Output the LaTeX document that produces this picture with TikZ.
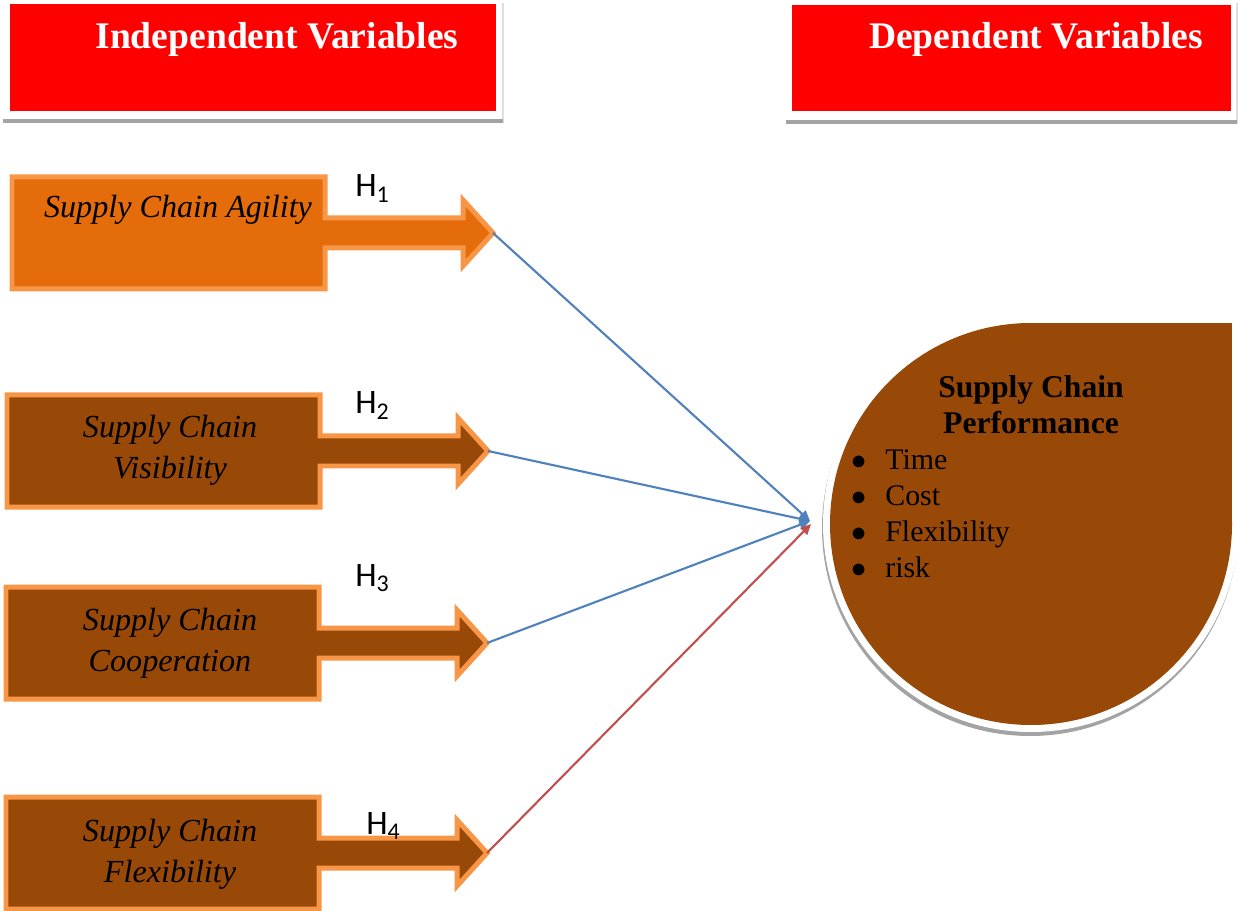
\documentclass[tikz,border=0pt]{standalone}
\usepackage{fontspec}
\setmainfont{Liberation Serif}
\newfontfamily\hypfont{Carlito}
\usetikzlibrary{arrows.meta, positioning}

\definecolor{hdrred}{HTML}{FF0000}
\definecolor{agiorange}{HTML}{E46C0A}
\definecolor{rimorange}{HTML}{F79646}
\definecolor{darkbrown}{HTML}{984807}
\definecolor{linkblue}{HTML}{4F81BD}
\definecolor{linkred}{HTML}{C0504D}
\definecolor{shadegray}{HTML}{A3A3A3}

\newcommand\perfitem[1]{\makebox[0.68cm][l]{$\bullet$}#1}

\begin{document}
\begin{tikzpicture}[x=0.02cm, y=-0.02cm,
    hdrtext/.style={text=white, font=\fontsize{21.4}{25}\selectfont\bfseries, inner sep=0pt, anchor=base},
    boxtext/.style={font=\fontsize{18.3}{23.3}\selectfont\itshape, align=center, inner sep=0pt},
    hyp/.style={font=\hypfont\fontsize{19.5}{22}\selectfont, inner sep=0pt, anchor=base west},
    link/.style={draw=linkblue, line width=1.2pt, -{Triangle[length=6pt, width=5.5pt]}}]
  \useasboundingbox (0,0) rectangle (1239,911);

  % header boxes
  \fill[shadegray!35] (3,3) rectangle (504,123);
  \fill[shadegray] (3,119) rectangle (503,123);
  \fill[white] (0,0) rectangle (502,119);
  \fill[hdrred] (10,4) rectangle (496,111);
  \fill[shadegray!35] (786,3) rectangle (1238,124);
  \fill[shadegray] (786,120) rectangle (1237,124);
  \fill[white] (783,0) rectangle (1236,120);
  \fill[hdrred] (792,5) rectangle (1231,111);
  \node[hdrtext] (indep) at (277,49) {Independent Variables};
  \node[hdrtext] (dep) at (1036,49) {Dependent Variables};

  % callout boxes
  \foreach \n/\x/\y/\c in {agil/12/233/agiorange, visi/7/451/darkbrown,
                           coop/6/643/darkbrown, flex/6/853/darkbrown} {
    \draw[draw=rimorange, line width=0.1cm, fill=\c] (\x,\y-56) -- ++(313,0) -- ++(0,41)
      -- ++(138,0) -- ++(0,-18) -- ++(30,33) -- ++(-30,33) -- ++(0,-18)
      -- ++(-138,0) -- ++(0,41) -- ++(-313,0) -- cycle;
    \coordinate (\n-tip) at (\x+481,\y);
  }
  \node[boxtext] (agil) at (178,210) {Supply Chain Agility};
  \node[boxtext] (visi) at (170,450) {Supply Chain\\Visibility};
  \node[boxtext] (coop) at (170,643) {Supply Chain\\Cooperation};
  \node[boxtext] (flex) at (170,854) {Supply Chain\\Flexibility};

  \node[hyp] (h1) at (355,197) {H\textsubscript{1}};
  \node[hyp] (h2) at (355,414) {H\textsubscript{2}};
  \node[hyp] (h3) at (355,586) {H\textsubscript{3}};
  \node[hyp] (h4) at (366,834) {H\textsubscript{4}};

  % performance drop
  \fill[shadegray] (1030,528) circle (208);
  \fill[shadegray] (1030,528) rectangle (1245,320);
  \fill[white] (1031,524) circle (208);
  \fill[white] (1031,524) rectangle (1245,316);
  \fill[darkbrown] (1031,524) circle (201);
  \fill[darkbrown] (1031,524) rectangle (1232,323);
  \node[font=\fontsize{18}{20.5}\selectfont\bfseries, align=center, inner sep=0pt] (perf)
    at (1031,405) {Supply Chain\\Performance};
  \node[font=\fontsize{17}{20.5}\selectfont, align=left, inner sep=0pt, anchor=west] (perfitems)
    at (851,514) {\perfitem{Time}\\ \perfitem{Cost}\\ \perfitem{Flexibility}\\ \perfitem{risk}};

  % hypothesis links
  \coordinate (perf-in) at (810,521);
  \coordinate (perf-in2) at (811,524);
  \draw[link] (agil-tip) -- (perf-in);
  \draw[link] (visi-tip) -- (perf-in);
  \draw[link] (coop-tip) -- (perf-in);
  \draw[link, draw=linkred] (flex-tip) -- (perf-in2);
\end{tikzpicture}
\end{document}
